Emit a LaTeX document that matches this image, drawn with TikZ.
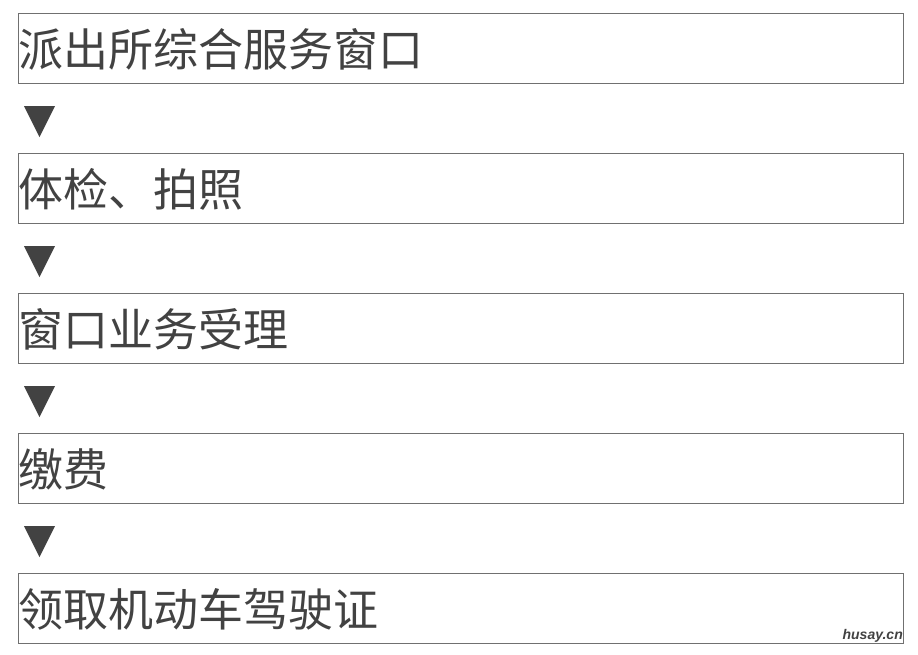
\documentclass[tikz,border=0pt]{standalone}
\usepackage{fontspec}
\newfontfamily\cjk{Noto Sans CJK SC}
\setsansfont{Liberation Sans}
\usetikzlibrary{positioning}
\definecolor{rahmen}{HTML}{707070}
\definecolor{schrift}{HTML}{424242}
\begin{document}
\begin{tikzpicture}[x=1pt,y=-1pt,
  schritt/.style={draw=rahmen,line width=1pt,minimum width=885pt,minimum height=70pt,inner sep=0pt,anchor=north west},
  beschr/.style={anchor=west,inner sep=0pt,text=schrift,font=\cjk\fontsize{45}{50}\selectfont},
  pfeil/.style={fill=schrift}]
\useasboundingbox (0,0) rectangle (918,654);
\foreach \i/\txt in {1/派出所综合服务窗口,2/体检、拍照,3/窗口业务受理,4/缴费,5/领取机动车驾驶证}{
  \node[schritt] (s\i) at (18,{13+140*(\i-1)}) {};
  \node[beschr] (t\i) at ([xshift=0.5pt,yshift=-1pt]s\i.west) {\txt};
}
\foreach \i in {1,...,4}{
  \coordinate (p\i) at ([xshift=6pt,yshift=-22pt]s\i.south west);
  \fill[pfeil] (p\i) -- ++(31,0) -- ++(-15.5,31) -- cycle;
}
\node[anchor=south east,inner sep=1pt,text=schrift,font=\sffamily\bfseries\itshape\fontsize{14}{16}\selectfont] (marke) at (s5.south east) {husay.cn};
\end{tikzpicture}
\end{document}
